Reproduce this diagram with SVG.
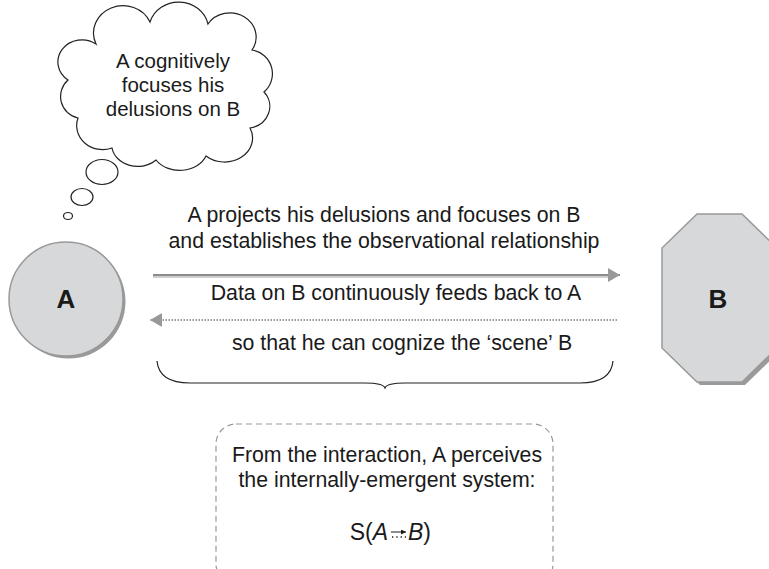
<svg xmlns="http://www.w3.org/2000/svg" width="769" height="569" viewBox="0 0 769 569">
<defs>
<style>
text{font-family:"Liberation Sans",Arial,sans-serif;fill:#1a1a1a;}
.t{font-size:21.3px;text-anchor:middle;}
.c{font-size:20.5px;text-anchor:middle;}
.lbl{font-size:26px;font-weight:bold;text-anchor:middle;}
.cloud{fill:#fff;stroke:#222;stroke-width:1.2;}
.node{fill:#d7d8da;stroke:#999;stroke-width:1.5;}
.shadow{fill:#9a9a9a;}
</style>
<marker id="ah" viewBox="0 0 12 14" refX="12" refY="7" markerWidth="12" markerHeight="14" markerUnits="userSpaceOnUse" orient="auto">
<path d="M0,0 L12,7 L0,14 Z" fill="#999"/>
</marker>
<marker id="sa" viewBox="0 0 6 6" refX="6" refY="3" markerWidth="5" markerHeight="5" markerUnits="userSpaceOnUse" orient="auto">
<path d="M0,0 L6,3 L0,6 Z" fill="#1a1a1a"/>
</marker>
</defs>
<rect width="769" height="569" fill="#fff"/>

<g id="cloud">
<path class="cloud" d="M150,22 A30,28 0 0 1 208,24 A26,24 0 0 1 252,50 A24,24 0 0 1 264,92 A24,22 0 0 1 250,128 A28,24 0 0 1 206,156 A28,22 0 0 1 156,160 A26,22 0 0 1 112,148 A26,24 0 0 1 78,118 A22,22 0 0 1 68,80 A24,22 0 0 1 96,44 A28,26 0 0 1 150,22 Z"/>
<ellipse class="cloud" cx="102" cy="172" rx="16" ry="12.5"/>
<ellipse class="cloud" cx="82" cy="197" rx="11" ry="8.5"/>
<ellipse class="cloud" cx="68" cy="216" rx="4.5" ry="3.5"/>
<text class="c" x="173" y="68">A cognitively</text>
<text class="c" x="173" y="92">focuses his</text>
<text class="c" x="173" y="116">delusions on B</text>
</g>

<g id="nodeA">
<circle class="shadow" cx="68.5" cy="301.5" r="57"/>
<circle class="node" cx="66" cy="299" r="57"/>
<text class="lbl" x="66" y="308">A</text>
</g>

<g id="nodeB">
<polygon class="shadow" points="700,217 745,217 780,251 780,351 745,385 700,385 665,351 665,251"/>
<polygon class="node" points="697,214 742,214 777,248 777,348 742,382 697,382 662,348 662,248"/>
<text class="lbl" x="718" y="308">B</text>
</g>

<g id="connectors">
<line x1="153" y1="277" x2="612" y2="277" stroke="#cfcfcf" stroke-width="2"/>
<line x1="153" y1="275" x2="620" y2="275" stroke="#8c8c8c" stroke-width="2" marker-end="url(#ah)"/>
<line x1="617" y1="320" x2="150" y2="320" stroke="#9a9a9a" stroke-width="2" stroke-dasharray="1.5,1.5" marker-end="url(#ah)"/>
<path d="M157,361 Q159,383 190,383 L365,383 Q383,383 385,388 Q387,383 405,383 L580,383 Q611,383 613,361" fill="none" stroke="#222" stroke-width="1.2"/>
</g>

<g id="labels">
<text class="t" x="384" y="222">A projects his delusions and focuses on B</text>
<text class="t" x="384" y="248">and establishes the observational relationship</text>
<text class="t" x="396" y="300">Data on B continuously feeds back to A</text>
<text class="t" x="402" y="350">so that he can cognize the ‘scene’ B</text>
</g>

<g id="result">
<rect x="216" y="424" width="337" height="160" rx="20" fill="none" stroke="#999" stroke-width="1.2" stroke-dasharray="6,4"/>
<text class="t" x="387" y="462">From the interaction, A perceives</text>
<text class="t" x="387" y="487">the internally-emergent system:</text>
<text x="388" y="540" style="font-size:23px;text-anchor:end">S(<tspan font-style="italic">A</tspan></text>
<line x1="391" y1="532" x2="406" y2="532" stroke="#1a1a1a" stroke-width="1" marker-end="url(#sa)"/>
<line x1="392" y1="537" x2="406" y2="537" stroke="#1a1a1a" stroke-width="1.3" stroke-dasharray="1.3,3"/>
<text x="408" y="540" style="font-size:23px"><tspan font-style="italic">B</tspan>)</text>
</g>
</svg>
